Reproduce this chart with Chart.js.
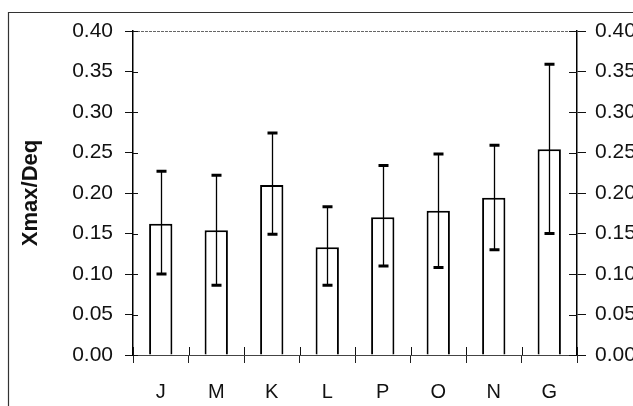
<!DOCTYPE html>
<html>
<head>
<meta charset="utf-8">
<script src="https://cdn.jsdelivr.net/npm/chart.js@4/dist/chart.umd.min.js"></script>
<style>
  html, body { margin: 0; padding: 0; background: #fff; }
  canvas { display: block; }
</style>
</head>
<body>
<canvas id="chart" width="633" height="406"></canvas>
<script>
// groups on the x axis
var groups = ['J', 'M', 'K', 'L', 'P', 'O', 'N', 'G'];
// bar heights (mean Xmax/Deq)
var means = [0.162, 0.154, 0.210, 0.133, 0.170, 0.178, 0.194, 0.254];
// error bar ends
var errTop = [0.227, 0.222, 0.274, 0.183, 0.234, 0.248, 0.259, 0.359];
var errBottom = [0.100, 0.086, 0.149, 0.086, 0.110, 0.108, 0.130, 0.150];
// y axis range
var yMin = 0, yMax = 0.40, yStep = 0.05;

var tickFont = {family: '"Liberation Sans", Arial, sans-serif', size: 21};

// outer frame + dotted top border of the plot
var framePlugin = {
	id: 'frame',
	beforeDraw: function(chart){
		var ctx = chart.ctx;
		ctx.save();
		ctx.strokeStyle = '#333';
		ctx.lineWidth = 1.2;
		ctx.beginPath();
		ctx.moveTo(8.5, 406);
		ctx.lineTo(8.5, 12.5);
		ctx.lineTo(633, 12.5);
		ctx.stroke();
		var a = chart.chartArea;
		ctx.strokeStyle = '#666';
		ctx.lineWidth = 1;
		ctx.setLineDash([3, 1]);
		ctx.beginPath();
		ctx.moveTo(a.left, a.top + 0.5);
		ctx.lineTo(a.right, a.top + 0.5);
		ctx.stroke();
		ctx.restore();
	}
};

// tick marks that cross into the plot area
var innerTicks = {
	id: 'innerTicks',
	afterDraw: function(chart){
		var ctx = chart.ctx;
		var y = chart.scales.y, x = chart.scales.x;
		var a = chart.chartArea;
		ctx.save();
		ctx.strokeStyle = '#111';
		ctx.lineWidth = 1;
		for(var v = yMin; v <= yMax + 1e-9; v += yStep){
			var py = Math.round(y.getPixelForValue(v)) + 0.5;
			ctx.beginPath();
			ctx.moveTo(a.left, py); ctx.lineTo(a.left + 5, py);
			ctx.moveTo(a.right, py); ctx.lineTo(a.right - 8, py);
			ctx.stroke();
		}
		for(var i = 0; i <= groups.length; i++){
			var px = Math.round(x.getPixelForValue(i - 0.5)) + 0.5;
			ctx.beginPath();
			ctx.moveTo(px, a.bottom); ctx.lineTo(px, a.bottom - 8);
			ctx.stroke();
		}
		ctx.restore();
	}
};

// error bars
var errorBars = {
	id: 'errorBars',
	afterDatasetsDraw: function(chart){
		var ctx = chart.ctx;
		var y = chart.scales.y;
		var meta = chart.getDatasetMeta(0);
		ctx.save();
		ctx.strokeStyle = '#000';
		for(var i = 0; i < meta.data.length; i++){
			var bx = Math.round(meta.data[i].x) + 0.5;
			var t = y.getPixelForValue(errTop[i]);
			var b = y.getPixelForValue(errBottom[i]);
			ctx.lineWidth = 1.3;
			ctx.beginPath();
			ctx.moveTo(bx, t); ctx.lineTo(bx, b);
			ctx.stroke();
			ctx.lineWidth = 3;
			ctx.beginPath();
			ctx.moveTo(bx - 5, t); ctx.lineTo(bx + 5, t);
			ctx.moveTo(bx - 5, b); ctx.lineTo(bx + 5, b);
			ctx.stroke();
		}
		ctx.restore();
	}
};

var chart = new Chart(document.getElementById('chart'), {
	type: 'bar',
	data: {
		labels: groups,
		datasets: [{
			data: means,
			backgroundColor: '#fff',
			borderColor: '#000',
			borderWidth: 2,
			categoryPercentage: 1,
			barPercentage: 0.42
		}]
	},
	plugins: [framePlugin, innerTicks, errorBars],
	options: {
		responsive: false,
		animation: false,
		layout: {padding: {top: 31, left: 0, right: 0, bottom: 0}},
		plugins: {legend: {display: false}, tooltip: {enabled: false}},
		scales: {
			x: {
				grid: {offset: true, drawOnChartArea: false, tickLength: 8, color: '#222', lineWidth: 1},
				border: {color: '#444', width: 1},
				ticks: {font: {family: tickFont.family, size: 20}, color: '#111', padding: 17},
				afterFit: function(s){ s.height = 51; }
			},
			y: {
				min: yMin, max: yMax,
				grid: {drawOnChartArea: false, tickLength: 8, color: '#111', lineWidth: 1},
				border: {color: '#000', width: 1.5},
				ticks: {stepSize: yStep, font: tickFont, color: '#111', padding: 12,
					callback: function(v){ return v.toFixed(2); }},
				title: {display: true, text: 'Xmax/Deq', color: '#111',
					font: {family: tickFont.family, size: 22, weight: 'bold'},
					padding: {top: 18, bottom: 0}},
				afterFit: function(s){ s.width = 133; }
			},
			y2: {
				position: 'right',
				min: yMin, max: yMax,
				grid: {drawOnChartArea: false, tickLength: 9, color: '#111', lineWidth: 1},
				border: {color: '#000', width: 1.5},
				ticks: {stepSize: yStep, font: tickFont, color: '#111', padding: 9,
					callback: function(v){ return v.toFixed(2); }},
				afterFit: function(s){ s.width = 56; }
			}
		}
	}
});
</script>
</body>
</html>
